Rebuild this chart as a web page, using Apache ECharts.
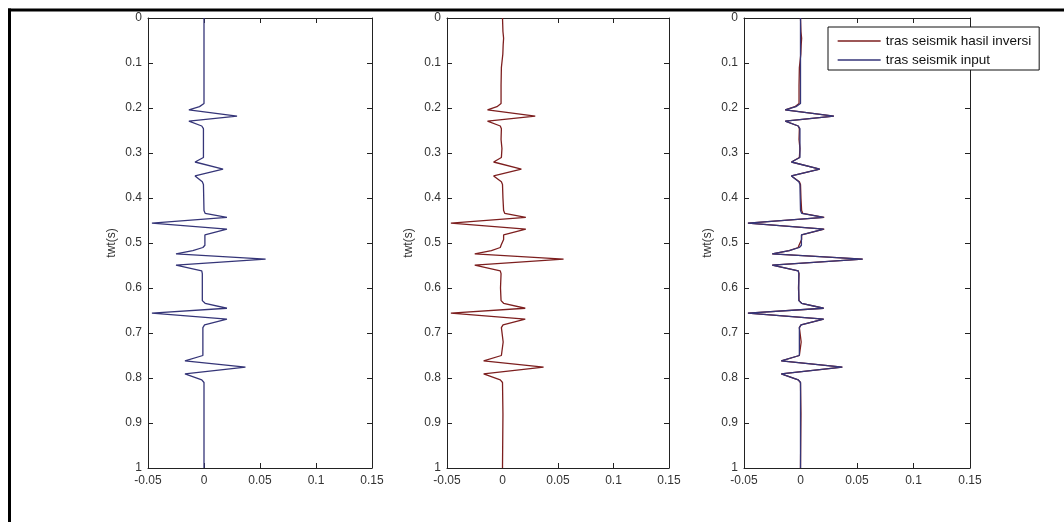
<!DOCTYPE html>
<html>
<head>
<meta charset="utf-8">
<script src="https://cdn.jsdelivr.net/npm/echarts@6/dist/echarts.min.js"></script>
<style>
  html, body { margin: 0; padding: 0; background: #fff; }
  #chart { width: 1064px; height: 522px; }
</style>
</head>
<body>
<div id="chart"></div>
<script>
// Axis ticks
const ampTicks = [-0.05, 0, 0.05, 0.1, 0.15];
const twtTicks = [0, 0.1, 0.2, 0.3, 0.4, 0.5, 0.6, 0.7, 0.8, 0.9, 1];
const axisName = 'twt(s)';
const legendNames = ['tras seismik hasil inversi', 'tras seismik input'];

// Input seismic trace: two-way time (s) and amplitude
const inputTime = [
  0, 0.100, 0.190, 0.197, 0.204, 0.218, 0.229, 0.240, 0.246,
  0.310, 0.314, 0.320, 0.336, 0.351, 0.364, 0.370,
  0.428, 0.434, 0.443, 0.456, 0.469, 0.482, 0.505, 0.510, 0.517, 0.524, 0.536, 0.549, 0.562, 0.568,
  0.628, 0.634, 0.645, 0.656, 0.669, 0.682, 0.688,
  0.750, 0.762, 0.776, 0.791, 0.804, 0.810, 1.000
];
const inputAmp = [
  0, 0, 0, -0.004, -0.0135, 0.0295, -0.0135, -0.002, -0.0005,
  -0.0005, -0.002, -0.008, 0.017, -0.008, -0.0015, -0.0005,
  0, 0.001, 0.0205, -0.0465, 0.0205, 0.0008, 0.0008, -0.001, -0.010, -0.025, 0.055, -0.025, -0.002, -0.0015,
  -0.0015, 0.001, 0.0205, -0.0465, 0.0205, 0.0005, -0.001,
  -0.001, -0.017, 0.037, -0.017, -0.002, 0, 0
];

// Trace obtained from the inversion: two-way time (s) and amplitude
const inversionTime = [
  0, 0.030, 0.045, 0.060, 0.080, 0.110, 0.150, 0.190, 0.197, 0.204, 0.218, 0.229, 0.240, 0.246,
  0.270, 0.290, 0.310, 0.314, 0.320, 0.336, 0.351, 0.364, 0.370, 0.400,
  0.428, 0.434, 0.443, 0.456, 0.469, 0.482, 0.492, 0.505, 0.510, 0.517, 0.524, 0.536, 0.549, 0.562, 0.568,
  0.600, 0.628, 0.634, 0.645, 0.656, 0.669, 0.682, 0.688, 0.720,
  0.750, 0.762, 0.776, 0.791, 0.804, 0.810, 0.880, 1.000
];
const inversionAmp = [
  0, 0.0004, 0.001, 0.0006, 0.0003, -0.001, -0.0013, -0.0013, -0.005, -0.0135, 0.0295, -0.0135, -0.002, -0.001,
  -0.0013, -0.0005, -0.001, -0.002, -0.008, 0.017, -0.008, -0.001, 0, 0.0004,
  0.001, 0.002, 0.021, -0.0465, 0.021, 0.001, 0.001, -0.0013, -0.002, -0.010, -0.025, 0.055, -0.025, -0.002, -0.0013,
  -0.0018, -0.0013, 0.001, 0.0205, -0.0465, 0.0205, 0.0005, -0.001, 0.0006,
  -0.001, -0.017, 0.037, -0.017, -0.002, 0, 0.0004, 0
];

const FONT = '"Liberation Sans", Arial, Helvetica, sans-serif';
const AXIS_COLOR = '#222';
const LABEL_COLOR = '#333';
const RED = '#7d1f1f';
const BLUE = '#353578';

// Panel placement in pixels
const panels = [
  { left: 148, width: 224, nameGap: 30 },
  { left: 447, width: 222, nameGap: 32 },
  { left: 744, width: 226, nameGap: 30 }
];
const TOP = 18, HEIGHT = 450;

function toPairs(time, amp) {
  return time.map((t, i) => [amp[i], t]);
}
function fmt(v) {
  return String(+v.toFixed(2));
}

const grid = [], xAxis = [], yAxis = [];
panels.forEach((p, i) => {
  grid.push({ left: p.left, top: TOP, width: p.width, height: HEIGHT, show: false });
  const xBase = {
    type: 'value', gridIndex: i,
    min: ampTicks[0], max: ampTicks[ampTicks.length - 1],
    interval: ampTicks[1] - ampTicks[0],
    axisLine: { show: true, onZero: false, lineStyle: { color: AXIS_COLOR, width: 1 } },
    axisTick: { show: true, inside: true, length: 5, lineStyle: { color: AXIS_COLOR } },
    splitLine: { show: false }
  };
  xAxis.push(Object.assign({}, xBase, {
    position: 'bottom',
    axisLabel: { show: true, margin: 7, color: LABEL_COLOR, fontSize: 12, fontFamily: FONT, formatter: fmt }
  }));
  xAxis.push(Object.assign({}, xBase, { position: 'top', axisLabel: { show: false } }));

  const yBase = {
    type: 'value', gridIndex: i, inverse: true,
    min: twtTicks[0], max: twtTicks[twtTicks.length - 1],
    interval: twtTicks[1] - twtTicks[0],
    axisLine: { show: true, onZero: false, lineStyle: { color: AXIS_COLOR, width: 1 } },
    axisTick: { show: true, inside: true, length: 5, lineStyle: { color: AXIS_COLOR } },
    splitLine: { show: false }
  };
  yAxis.push(Object.assign({}, yBase, {
    position: 'left',
    name: axisName, nameLocation: 'middle', nameGap: p.nameGap,
    nameTextStyle: { color: LABEL_COLOR, fontSize: 12, fontFamily: FONT },
    axisLabel: { show: true, margin: 6, color: LABEL_COLOR, fontSize: 12, fontFamily: FONT, formatter: fmt }
  }));
  yAxis.push(Object.assign({}, yBase, { position: 'right', axisLabel: { show: false } }));
});

function trace(name, color, time, amp, panel, z) {
  return {
    type: 'line', name: name,
    xAxisIndex: panel * 2, yAxisIndex: panel * 2,
    data: toPairs(time, amp),
    symbol: 'none', showSymbol: false,
    lineStyle: { color: color, width: 1.3 },
    itemStyle: { color: color },
    z: z, silent: true, animation: false
  };
}

const series = [
  trace(legendNames[1], BLUE, inputTime, inputAmp, 0, 2),
  trace(legendNames[0], RED, inversionTime, inversionAmp, 1, 2),
  trace(legendNames[0], RED, inversionTime, inversionAmp, 2, 2),
  trace(legendNames[1], BLUE, inputTime, inputAmp, 2, 3)
];

const chart = echarts.init(document.getElementById('chart'), null, { renderer: 'canvas' });
chart.setOption({
  backgroundColor: '#fff',
  animation: false,
  grid: grid,
  xAxis: xAxis,
  yAxis: yAxis,
  series: series,
  legend: {
    data: legendNames,
    orient: 'vertical',
    left: 828, top: 27,
    backgroundColor: '#fff',
    borderColor: '#111', borderWidth: 1, borderRadius: 0,
    padding: [7, 8, 3, 9],
    itemGap: 5, itemWidth: 43, itemHeight: 14,
    itemStyle: { opacity: 0 },
    lineStyle: { width: 1.3 },
    textStyle: { color: '#111', fontSize: 13.5, fontFamily: FONT }
  },
  graphic: [
    { type: 'line', shape: { x1: 8, y1: 10, x2: 1064, y2: 10 }, style: { stroke: '#000', lineWidth: 3 }, z: 10 },
    { type: 'line', shape: { x1: 9.5, y1: 8.5, x2: 9.5, y2: 522 }, style: { stroke: '#000', lineWidth: 3 }, z: 10 }
  ]
});
</script>
</body>
</html>
